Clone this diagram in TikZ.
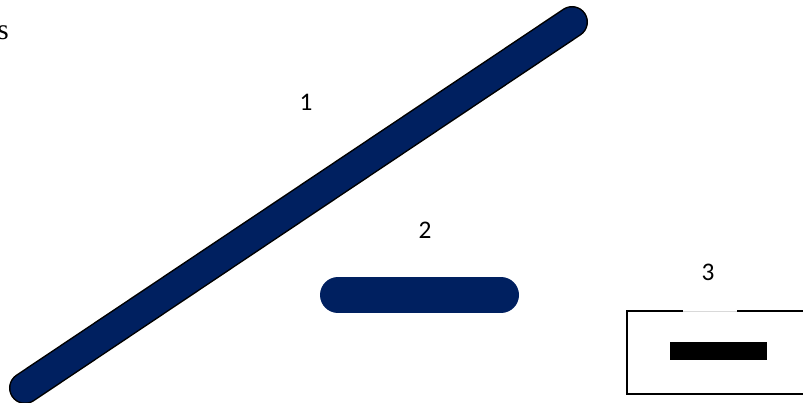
\documentclass[tikz,border=0pt]{standalone}
\usepackage{fontspec}
\setmainfont{Carlito}
\newfontfamily\serifs{Liberation Serif}
\definecolor{navy}{HTML}{002060}
\begin{document}
\begin{tikzpicture}[x=0.75pt,y=-0.75pt,
  lbl/.style={font=\fontsize{19pt}{22pt}\selectfont, inner sep=0pt, anchor=center},
  boxline/.style={line width=1.5pt*0.75, black}]
\useasboundingbox (0,0) rectangle (803,403);
% long bar 1
\coordinate (b1a) at (25,388);
\coordinate (b1b) at (572,22);
\draw[line width=32*0.75pt, line cap=round, black] (b1a) -- (b1b);
\draw[line width=29*0.75pt, line cap=round, navy] (b1a) -- (b1b);
% bar 2
\coordinate (b2a) at (338,295);
\coordinate (b2b) at (501,295);
\draw[line width=36*0.75pt, line cap=round, navy] (b2a) -- (b2b);
% box 3
\coordinate (t1) at (683,311);
\coordinate (t2) at (737,311);
\coordinate (tl) at (627,311);
\coordinate (bl) at (627,394);
\coordinate (br) at (803,394);
\coordinate (tr) at (803,311);
\draw[boxline] (t1) -- (tl) -- (bl) -- (br);
\draw[boxline] (t2) -- (tr);
\draw[line width=0.75pt, black!15] (t1) -- (t2);
\fill[black] (670,342) rectangle (767,360);
% labels
\node[lbl] (l1) at (306,102) {1};
\node[lbl] (l2) at (425,230) {2};
\node[lbl] (l3) at (708,272) {3};
\node[font=\serifs\fontsize{22pt}{26pt}\selectfont, inner sep=0pt, anchor=base east] (ls) at (9,40) {s};
\end{tikzpicture}
\end{document}
